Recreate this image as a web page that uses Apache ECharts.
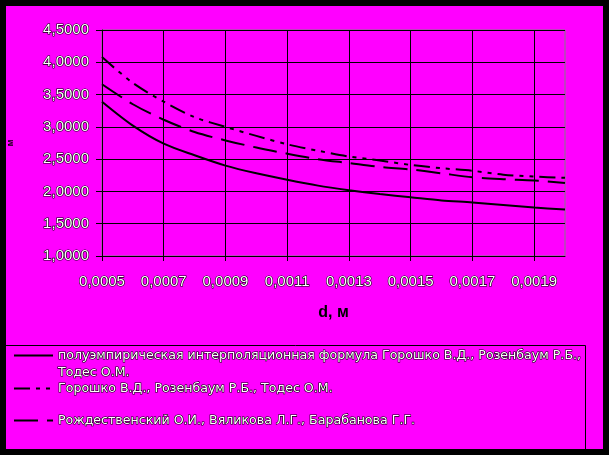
<!DOCTYPE html>
<html>
<head>
<meta charset="utf-8">
<script src="https://cdn.jsdelivr.net/npm/echarts@6/dist/echarts.min.js"></script>
<style>
html,body{margin:0;padding:0;background:#000;}
#chart{width:609px;height:455px;}
</style>
</head>
<body>
<div id="chart"></div>
<script>
// d, м
var dValues = [0.0005,0.0006,0.0007,0.0008,0.0009,0.0010,0.0011,0.0012,0.0013,0.0014,0.0015,0.0016,0.0017,0.0018,0.0019,0.0020];
var seriesNames = [
  'полуэмпирическая интерполяционная формула Горошко В.Д., Розенбаум Р.Б., Тодес О.М.',
  'Горошко В.Д., Розенбаум Р.Б., Тодес О.М.',
  'Рождественский О.И., Вяликова Л.Г., Барабанова Г.Г.'
];
var semiEmpirical = [3.39,3.02,2.74,2.56,2.40,2.28,2.18,2.09,2.02,1.96,1.91,1.86,1.83,1.79,1.75,1.72];
var goroshko     = [4.08,3.68,3.39,3.15,3.00,2.86,2.73,2.63,2.54,2.48,2.41,2.36,2.32,2.26,2.23,2.21];
var rozhdestv    = [3.66,3.35,3.11,2.92,2.79,2.68,2.585,2.50,2.44,2.38,2.34,2.28,2.22,2.19,2.17,2.13];
var yTicks = {min:1, max:4.5, interval:0.5};

function fmt(v){ return v.toFixed(4).replace('.', ','); }
var categories = dValues.map(fmt);

var lightText = {color:'#ffffff', textBorderColor:'#000000', textBorderWidth:1.2, fontFamily:'Liberation Sans, Arial, sans-serif'};

var chart = echarts.init(document.getElementById('chart'), null, {renderer:'canvas'});
var legendText = Object.assign({}, lightText, {fontSize:12.6, lineHeight:17, fontFamily:'DejaVu Sans, sans-serif'});
var legendCommon = {left:13, padding:0, itemWidth:39, itemHeight:12, itemGap:0,
  itemStyle:{opacity:0, borderWidth:0}, textStyle:legendText};
var option = {
  backgroundColor:'#000000',
  animation:false,
  graphic:[
    {type:'rect', shape:{x:6,y:6,width:597,height:443}, style:{fill:'#ff00ff'}, z:-10, silent:true},
    {type:'rect', shape:{x:5.5,y:345.5,width:580,height:106}, style:{fill:'none', stroke:'#000', lineWidth:1}, z:-5, silent:true}
  ],
  grid:{left:102, right:44, top:30, bottom:199, show:true, borderColor:'#808080', borderWidth:1,
        containLabel:false, outerBoundsMode:'none'},
  xAxis:{
    type:'category', data:categories, boundaryGap:false,
    name:'d, м', nameLocation:'middle', nameGap:49,
    nameTextStyle:{color:'#000', fontSize:16, fontWeight:'bold', fontFamily:'Liberation Sans, Arial, sans-serif'},
    axisLine:{lineStyle:{color:'#000', width:1}},
    axisTick:{show:true, interval:1, length:5, lineStyle:{color:'#000'}},
    axisLabel:Object.assign({interval:1, fontSize:15, margin:18}, lightText),
    splitLine:{show:true, interval:1, lineStyle:{color:'#000', width:1}}
  },
  yAxis:{
    type:'value', min:yTicks.min, max:yTicks.max, interval:yTicks.interval,
    name:'м', nameLocation:'middle', nameGap:87, nameRotate:90,
    nameTextStyle:{color:'#000', fontSize:9, fontWeight:'bold', fontFamily:'Liberation Sans, Arial, sans-serif'},
    axisLine:{show:true, lineStyle:{color:'#000', width:1}},
    axisTick:{show:true, length:6, lineStyle:{color:'#000'}},
    axisLabel:Object.assign({fontSize:15, margin:13, formatter:function(v){return fmt(v);}}, lightText),
    splitLine:{show:true, lineStyle:{color:'#000', width:1}}
  },
  legend:[
    Object.assign({data:[seriesNames[0]], top:330,
     formatter:function(n){return '\nполуэмпирическая интерполяционная формула Горошко В.Д., Розенбаум Р.Б.,\nТодес О.М.';}}, legendCommon),
    Object.assign({data:[seriesNames[1]], top:380}, legendCommon),
    Object.assign({data:[seriesNames[2]], top:412}, legendCommon)
  ],
  series:[
    {name:seriesNames[0], type:'line', data:semiEmpirical, smooth:0.3, symbol:'none', showSymbol:false,
     lineStyle:{color:'#000', width:2, type:'solid'}, itemStyle:{color:'#000'}},
    {name:seriesNames[1], type:'line', data:goroshko, smooth:0.3, symbol:'none', showSymbol:false,
     lineStyle:{color:'#000', width:2, type:[16,6,4,6,4,6]}, itemStyle:{color:'#000'}},
    {name:seriesNames[2], type:'line', data:rozhdestv, smooth:0.3, symbol:'none', showSymbol:false,
     lineStyle:{color:'#000', width:2, type:[24,9]}, itemStyle:{color:'#000'}}
  ]
};
chart.setOption(option);
</script>
</body>
</html>
